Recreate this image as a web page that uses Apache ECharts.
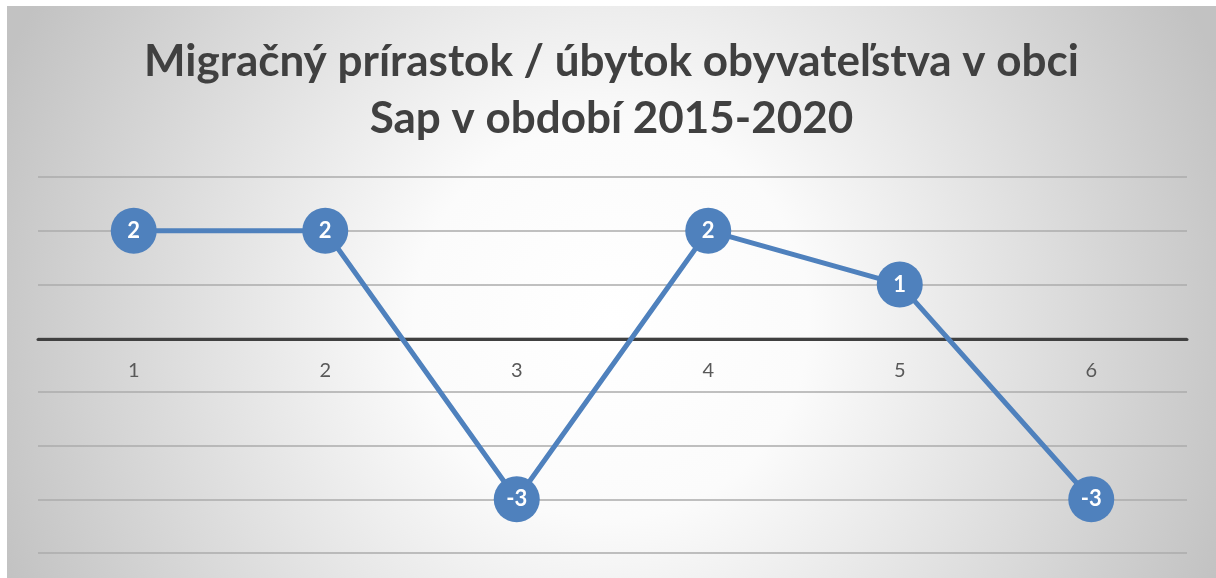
<!DOCTYPE html>
<html>
<head>
<meta charset="utf-8">
<script src="https://cdn.jsdelivr.net/npm/echarts@6/dist/echarts.min.js"></script>
<style>
  html, body { margin: 0; padding: 0; background: #ffffff; }
  #chartWrap { position: absolute; left: 7px; top: 6px; width: 1209px; height: 572px; }
</style>
</head>
<body>
<div id="chartWrap"></div>
<script>
// roky 2015-2020 ako poradie 1..6
var categories = ['1', '2', '3', '4', '5', '6'];
var migracia = [2, 2, -3, 2, 1, -3];
var titleText = 'Migračný prírastok / úbytok obyvateľstva v obci\nSap v období 2015-2020';

var dom = document.getElementById('chartWrap');
var myChart = echarts.init(dom);
var option = {
    backgroundColor: {
        type: 'radial',
        x: 0.5, y: 0.55, r: 1.15,
        colorStops: [
            { offset: 0, color: '#ffffff' },
            { offset: 0.3, color: '#fbfbfb' },
            { offset: 1, color: '#c2c2c2' }
        ]
    },
    title: {
        text: titleText,
        left: 'center',
        top: 22,
        textStyle: {
            fontFamily: 'Lato',
            fontWeight: 'bold',
            fontSize: 44,
            lineHeight: 57,
            color: '#404040'
        }
    },
    grid: {
        left: 31,
        right: 29,
        top: 171,
        bottom: 25,
        outerBoundsMode: 'none',
        containLabel: false
    },
    xAxis: {
        type: 'category',
        data: categories,
        boundaryGap: true,
        // os x lezi na nule
        offset: -214,
        axisLine: { onZero: false, lineStyle: { color: '#404040', width: 3 } },
        axisTick: { show: false },
        axisLabel: {
            margin: 22,
            fontSize: 20,
            fontFamily: 'Lato',
            color: '#595959'
        },
        splitLine: { show: false }
    },
    yAxis: {
        type: 'value',
        min: -4,
        max: 3,
        interval: 1,
        axisLine: { show: false },
        axisTick: { show: false },
        axisLabel: { show: false },
        splitLine: { lineStyle: { color: '#ababab', width: 1.5 } }
    },
    series: [{
        type: 'line',
        data: migracia,
        symbol: 'circle',
        symbolSize: 46,
        lineStyle: { color: '#4f81bd', width: 5 },
        itemStyle: { color: '#4f81bd' },
        label: {
            show: true,
            position: 'inside',
            color: '#ffffff',
            fontWeight: 'bold',
            fontSize: 22,
            fontFamily: 'Lato'
        },
        animation: false
    }]
};
myChart.setOption(option, true);
</script>
</body>
</html>
